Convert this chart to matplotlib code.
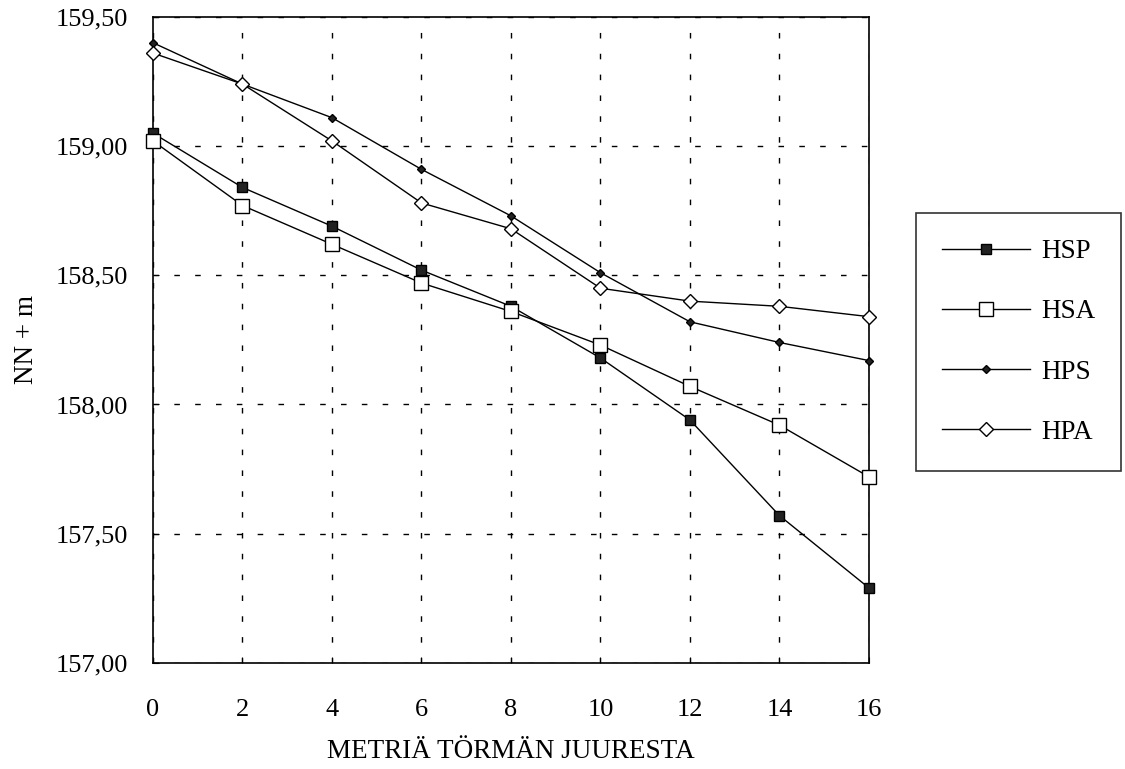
import matplotlib
matplotlib.use("Agg")

import matplotlib.pyplot as plt

# Distance from bank foot (m) and elevations (NN + m)
metres = [0, 2, 4, 6, 8, 10, 12, 14, 16]
hsp = [159.05, 158.84, 158.69, 158.52, 158.38, 158.18, 157.94, 157.57, 157.29]
hsa = [159.02, 158.77, 158.62, 158.47, 158.36, 158.23, 158.07, 157.92, 157.72]
hps = [159.40, 159.24, 159.11, 158.91, 158.73, 158.51, 158.32, 158.24, 158.17]
hpa = [159.36, 159.24, 159.02, 158.78, 158.68, 158.45, 158.40, 158.38, 158.34]

y_ticks = [157.0, 157.5, 158.0, 158.5, 159.0, 159.5]
y_tick_labels = ["157,00", "157,50", "158,00", "158,50", "159,00", "159,50"]

plt.rcParams["font.family"] = ["Liberation Serif", "DejaVu Serif"]

fig = plt.figure(figsize=(11.25, 7.69), dpi=100)
ax = fig.add_axes([0.136, 0.138, 0.6364, 0.84])

ax.plot(metres, hsp, color="black", lw=1.0, marker="s", ms=7,
        mfc="#222222", mec="black", label="HSP", zorder=3, clip_on=False)
ax.plot(metres, hsa, color="black", lw=1.0, marker="s", ms=10,
        mfc="white", mec="black", mew=1.0, label="HSA", zorder=3, clip_on=False)
ax.plot(metres, hps, color="black", lw=1.0, marker="D", ms=4.5,
        mfc="#222222", mec="black", label="HPS", zorder=3, clip_on=False)
ax.plot(metres, hpa, color="black", lw=1.0, marker="D", ms=7.5,
        mfc="white", mec="black", mew=1.0, label="HPA", zorder=3, clip_on=False)

ax.set_xlim(0, 16)
ax.set_ylim(157.0, 159.5)
ax.set_xticks(metres)
ax.set_yticks(y_ticks)
ax.set_yticklabels(y_tick_labels)
ax.tick_params(direction="in", length=4, labelsize=19)
ax.tick_params(axis="y", pad=18)
ax.tick_params(axis="x", pad=26)
ax.grid(True, color="black", linestyle=(0, (4, 11)), linewidth=1.0)
for s in ax.spines.values():
    s.set_linewidth(1.2)
    s.set_zorder(2.5)

ax.set_xlabel("METRIÄ TÖRMÄN JUURESTA", fontsize=19.5, labelpad=13)
ax.set_ylabel("NN + m", fontsize=19.5, labelpad=12)

leg = fig.legend(loc="upper left", bbox_to_anchor=(0.814, 0.723), fontsize=19.5,
                 frameon=True, fancybox=False, edgecolor="black",
                 handlelength=3.25, handletextpad=0.4, labelspacing=1.3,
                 borderpad=0.97, borderaxespad=0)
leg.get_frame().set_linewidth(1.2)

plt.savefig("out.png", dpi=100)
